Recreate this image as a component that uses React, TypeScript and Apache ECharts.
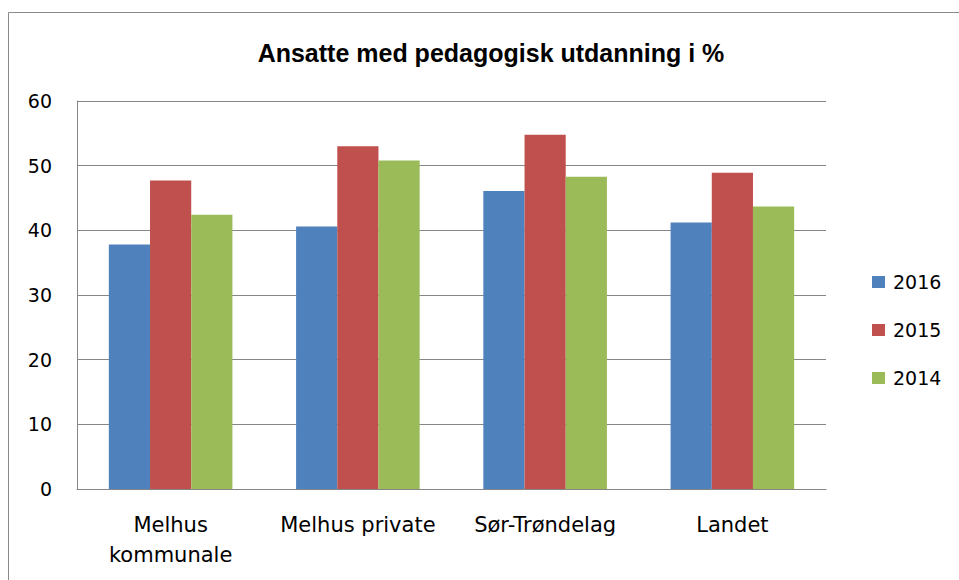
import React, { useEffect, useRef } from "react";
import * as echarts from "echarts";

const categories = ["Melhus\nkommunale", "Melhus private", "Sør-Trøndelag", "Landet"];
const seriesNames = ["2016", "2015", "2014"];
const values2016 = [37.8, 40.6, 46.1, 41.2];
const values2015 = [47.7, 53.0, 54.8, 48.9];
const values2014 = [42.4, 50.8, 48.3, 43.7];
const colors = ["#4F81BD", "#C0504D", "#9BBB59"];
const titleText = "Ansatte med pedagogisk utdanning i %";

export default function App() {
  const ref = useRef<HTMLDivElement>(null);
  useEffect(() => {
    document.body.style.margin = "0";
    if (!ref.current) return;
    const chart = echarts.init(ref.current, undefined, { renderer: "svg" });
    const labelFont = "'DejaVu Sans', Verdana, sans-serif";
    const data = [values2016, values2015, values2014];
    chart.setOption({
      animation: false,
      backgroundColor: "#ffffff",
      title: {
        text: titleText,
        left: 486,
        textAlign: "center",
        top: 33,
        textStyle: {
          fontFamily: "'Liberation Sans', Arial, sans-serif",
          fontWeight: "bold",
          fontSize: 25,
          lineHeight: 30,
          color: "#000000",
        },
      },
      graphic: [
        {
          type: "rect",
          shape: { x: 8.5, y: 12.5, width: 1000, height: 700 },
          style: { fill: "none", stroke: "#8a8a8a", lineWidth: 1 },
          silent: true,
        },
      ],
      legend: {
        orient: "vertical",
        left: 867,
        top: 267,
        itemWidth: 13,
        itemHeight: 12,
        itemGap: 28,
        icon: "rect",
        textStyle: {
          fontFamily: labelFont,
          fontSize: 19,
          lineHeight: 20,
          color: "#000000",
          padding: [0, 0, 0, 3],
        },
        data: seriesNames,
      },
      grid: { left: 77, right: 133, top: 101, bottom: 91, containLabel: false },
      xAxis: {
        type: "category",
        data: categories,
        axisLine: { lineStyle: { color: "#868686", width: 1 } },
        axisTick: { show: false },
        axisLabel: {
          fontFamily: labelFont,
          fontSize: 21,
          color: "#000000",
          margin: 21,
          lineHeight: 30,
          interval: 0,
        },
      },
      yAxis: {
        type: "value",
        min: 0,
        max: 60,
        interval: 10,
        axisLine: { show: true, lineStyle: { color: "#868686", width: 1 } },
        axisTick: { show: false },
        splitLine: { lineStyle: { color: "#868686", width: 1 } },
        axisLabel: {
          fontFamily: labelFont,
          fontSize: 19,
          color: "#000000",
          margin: 25,
          padding: [5, 0, 0, 0],
        },
      },
      series: seriesNames.map((name, i) => ({
        name,
        type: "bar",
        data: data[i],
        barGap: "0%",
        barCategoryGap: "34%",
        itemStyle: { color: colors[i] },
      })),
    });
    return () => chart.dispose();
  }, []);
  return <div ref={ref} style={{ width: 959, height: 580 }} />;
}
